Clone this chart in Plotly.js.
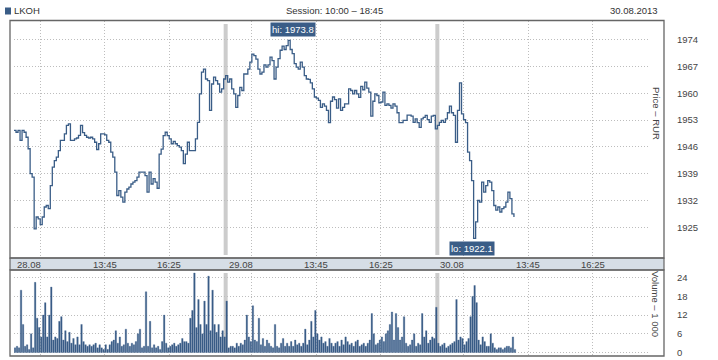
<!DOCTYPE html>
<html><head><meta charset="utf-8">
<script src="https://cdn.plot.ly/plotly-3.0.1.min.js"></script>
<style>html,body{margin:0;padding:0;background:#fff;}#chart{width:718px;height:360px;}</style>
</head><body><div id="chart"></div>
<script>
// ---------- data ----------
const ticker = 'LKOH';
const reportDate = '30.08.2013';
const sessionStart = '10:00';
const sessionEnd = '18:45';
const dayLabels = ['28.08', '29.08', '30.08'];
const gridTimes = ['11:05', '13:45', '16:25'];
const labelTimes = ['13:45', '16:25'];
const barMinutes = 5;
const priceTicks = [1925, 1932, 1939, 1946, 1953, 1960, 1967, 1974];
const volumeTicks = [0, 6, 12, 18, 24];

const priceDay1 = [1950.3,1949.8,1950.3,1947.7,1950.3,1949.8,1948.5,1945.5,1939.0,1938.1,
  1924.6,1927.7,1927.2,1925.7,1927.7,1930.3,1930.7,1929.9,1935.9,1940.7,
  1942.4,1943.3,1945.0,1947.7,1947.7,1949.4,1951.6,1952.0,1947.7,1947.7,
  1948.1,1948.3,1949.0,1951.6,1949.7,1949.0,1948.5,1948.3,1948.5,1948.1,
  1947.2,1945.3,1946.8,1949.4,1949.4,1949.1,1947.7,1947.2,1944.6,1943.3,
  1939.4,1933.3,1934.6,1932.9,1931.6,1934.2,1935.0,1935.5,1936.3,1936.8,
  1937.2,1938.1,1939.4,1939.4,1939.4,1938.5,1934.2,1939.4,1936.3,1937.7,
  1936.8,1935.2,1944.1,1945.4,1948.9,1949.8,1948.9,1948.1,1946.8,1947.4,
  1946.8,1946.3,1945.9,1945.0,1941.6,1944.1,1947.2,1945.0,1945.0,1945.0,
  1948.1,1952.4,1959.8,1965.5,1966.3,1963.7,1963.3,1955.5,1962.4,1964.2,
  1963.3,1962.4,1960.3,1961.1,1963.7];
const priceDay2 = [1964.6,1962.9,1963.7,1961.1,1959.8,1956.3,1959.4,1961.5,1960.7,1965.0,
  1965.0,1966.3,1968.1,1970.2,1969.8,1968.9,1966.3,1965.0,1965.5,1967.4,
  1966.8,1967.4,1969.4,1968.5,1963.7,1966.8,1969.0,1971.2,1972.3,1971.4,
  1972.4,1973.8,1971.4,1970.3,1967.7,1966.8,1966.3,1968.1,1966.8,1964.6,
  1963.7,1963.6,1962.7,1961.1,1959.0,1958.7,1958.1,1956.3,1957.2,1956.6,
  1955.5,1952.3,1957.9,1959.0,1958.3,1956.1,1958.5,1955.5,1956.3,1957.2,
  1957.2,1961.1,1960.7,1959.8,1960.7,1959.8,1958.9,1961.8,1960.9,1962.9,
  1961.3,1960.3,1954.0,1957.9,1959.8,1959.4,1957.5,1957.7,1960.3,1956.8,
  1957.2,1956.8,1956.1,1957.2,1956.6,1954.9,1952.3,1952.3,1952.9,1952.9,
  1954.3,1954.3,1954.0,1952.4,1953.3,1952.3,1951.1,1953.3,1953.7,1954.2,
  1953.1,1952.4,1954.0,1954.2,1950.7];
const priceDay3 = [1951.6,1952.4,1952.9,1952.4,1953.3,1954.9,1956.6,1954.9,1954.2,1947.2,
  1955.5,1962.7,1954.6,1953.1,1952.3,1944.6,1942.4,1937.2,1922.1,1926.4,
  1932.0,1931.6,1936.8,1934.2,1935.9,1937.2,1936.8,1934.6,1930.7,1929.5,
  1930.3,1929.0,1929.9,1930.3,1931.6,1934.2,1932.5,1928.5,1927.7];

const volDay1 = [1.5,2,1.5,20,9,2,2.5,1,6,1.5,
  22.5,11,8,5,12,16,5,12,21,4,
  5,4.5,10,11.5,4,7,3.5,6.5,3,4.5,
  2.5,5,2.5,9,3.5,2.5,2,2.5,2,2.5,
  3,1.5,2.5,1.5,1,2.5,1,2.5,3.5,4,
  7,3,5,2,2.5,7.5,3,2,3,2.5,
  3.5,6,7.5,1.5,2,19.5,2,10,1.5,2.5,
  1.5,2,1,3.5,12,3,1.5,2,2.5,3,
  2,2.5,3,4.5,3.5,3.5,3,11,13.5,25.5,
  8,17,9,6,16.5,9,24.5,7,20,9,
  6.5,9,5,7,5];
const volDay2 = [16.5,1.5,2,2,1.5,3,2,3,2.5,4,
  12,5,3.5,15,4,3.5,11,2.5,4.5,2,
  4,3,2,1.5,9,2,1.5,3,4.5,2,
  3,2,3.5,2,4,2.5,3,2,3,7.5,
  2.5,4,10,5,13.5,6,4,5,3,3.5,
  2,4.5,3,2,3,3.5,2,4,2.5,5,
  3.5,2.5,3,2,3.5,4,2,2.5,3,2,
  3,4,12.5,6,2.5,3,4,5,3.5,6,
  7,9,13,4,12.5,8,4,5,11.5,3,
  2,2.5,4,6,2,3,2.5,12.5,5,7,
  3,4,5,4.5,14.5];
const volDay3 = [3,2,2.5,3,1.5,2,2.5,3,3.5,17,
  4,5,4.5,2.5,3.5,4.5,11.5,18,21.5,16,
  4,2.5,5,3.5,2,2,6,3,1.5,1,
  1.5,1.5,1,1.5,2,2,1.5,5,1];

// ---------- helpers ----------
const toMin = s => { const [h, m] = s.split(':').map(Number); return h * 60 + m; };
const S0 = toMin(sessionStart);
const SESSION = toMin(sessionEnd) - S0; // 525 min
const priceDays = [priceDay1, priceDay2, priceDay3];
const volDays = [volDay1, volDay2, volDay3];
const tx = [], py = [], vx = [], vy = [];
priceDays.forEach((arr, d) => arr.forEach((v, i) => { tx.push(d * SESSION + i * barMinutes); py.push(v); }));
volDays.forEach((arr, d) => arr.forEach((v, i) => { vx.push(d * SESSION + i * barMinutes + barMinutes / 2); vy.push(v); }));

const gridVals = [];
dayLabels.forEach((_, d) => gridTimes.forEach(t => gridVals.push(d * SESSION + toMin(t) - S0)));

const XR = [0, 3 * SESSION];
const BLUE = '#3a5d87';
const FONT = 'Liberation Sans, Arial, sans-serif';
const TXT = '#444';

// pixel helpers for paper coordinates (plot area: x 14..649, y 21..356)
const L = 14, R = 649, T = 21, B = 356;
const px = x => (x - L) / (R - L);
const pyP = y => (B - y) / (B - T);

const priceDomain = [pyP(258), 1];
const volDomain = [0, pyP(270)];
const pTop = pyP(258), vTop = pyP(270);

let hiIdx = 0, loIdx = 0;
py.forEach((v, i) => { if (v > py[hiIdx]) hiIdx = i; if (v < py[loIdx]) loIdx = i; });

const traces = [
  { type: 'scatter', mode: 'lines', x: tx, y: py, xaxis: 'x', yaxis: 'y',
    line: { color: BLUE, width: 1.3, shape: 'hv' }, hoverinfo: 'skip' },
  { type: 'bar', x: vx, y: vy, xaxis: 'x2', yaxis: 'y2', width: 3.7,
    marker: { color: BLUE, line: { width: 0.3, color: BLUE } }, hoverinfo: 'skip' }
];

const annotations = [];
const af = (sz, c) => ({ family: FONT, size: sz, color: c });
// header
annotations.push({ xref: 'paper', yref: 'paper', x: px(12), y: pyP(11), text: ticker, showarrow: false,
  xanchor: 'left', yanchor: 'middle', font: af(9.5, '#333') });
annotations.push({ xref: 'paper', yref: 'paper', x: px(334), y: pyP(11),
  text: 'Session: ' + sessionStart + ' – ' + sessionEnd, showarrow: false,
  xanchor: 'center', yanchor: 'middle', font: af(9.5, '#333') });
annotations.push({ xref: 'paper', yref: 'paper', x: px(660), y: pyP(11), text: reportDate, showarrow: false,
  xanchor: 'right', yanchor: 'middle', font: af(9.5, '#333') });
// x labels in band
dayLabels.forEach((lab, d) => {
  annotations.push({ xref: 'x', yref: 'paper', x: d * SESSION + 37, y: pyP(264.5), text: lab, showarrow: false,
    xanchor: 'center', yanchor: 'middle', font: af(9.5, TXT) });
  labelTimes.forEach(t => {
    annotations.push({ xref: 'x', yref: 'paper', x: d * SESSION + toMin(t) - S0, y: pyP(264.5), text: t, showarrow: false,
      xanchor: 'center', yanchor: 'middle', font: af(9.5, TXT) });
  });
});
// axis titles (rotated, reading downward)
annotations.push({ xref: 'paper', yref: 'paper', x: px(656), y: pyP(113), text: 'Price – RUR', showarrow: false,
  textangle: 90, xanchor: 'center', yanchor: 'middle', font: af(9.5, TXT) });
annotations.push({ xref: 'paper', yref: 'paper', x: px(656), y: pyP(304), text: 'Volume – 1 000', showarrow: false,
  textangle: 90, xanchor: 'center', yanchor: 'middle', font: af(9.5, TXT) });
// hi / lo labels
annotations.push({ xref: 'x', yref: 'y', x: tx[hiIdx], y: py[hiIdx], text: 'hi: ' + py[hiIdx].toFixed(1),
  showarrow: false, xanchor: 'center', yanchor: 'bottom', yshift: 3, xshift: 5, bgcolor: BLUE, borderpad: 1,
  font: af(9.5, '#fff') });
annotations.push({ xref: 'x', yref: 'y', x: tx[loIdx], y: py[loIdx], text: 'lo: ' + py[loIdx].toFixed(1),
  showarrow: false, xanchor: 'center', yanchor: 'top', yshift: -3, xshift: -2, bgcolor: BLUE, borderpad: 1,
  font: af(9.5, '#fff') });

const shapes = [];
// day separators (x in data units, y in paper units)
[1, 2].forEach(d => {
  shapes.push({ type: 'line', xref: 'x', yref: 'paper', x0: d * SESSION, x1: d * SESSION,
    y0: pyP(255), y1: pyP(24), line: { color: '#cccccc', width: 4 }, layer: 'below' });
  shapes.push({ type: 'line', xref: 'x', yref: 'paper', x0: d * SESSION, x1: d * SESSION,
    y0: pyP(353), y1: pyP(273), line: { color: '#cccccc', width: 4 }, layer: 'below' });
});
// band
shapes.push({ type: 'rect', xref: 'paper', yref: 'paper', x0: px(10), x1: px(664), y0: vTop, y1: pTop,
  fillcolor: '#d6dee6', line: { color: '#666', width: 1.2 }, layer: 'above' });
// frames
shapes.push({ type: 'rect', xref: 'paper', yref: 'paper', x0: px(10), x1: px(664), y0: pTop, y1: pyP(20.5),
  line: { color: '#666', width: 1.3 }, layer: 'above' });
shapes.push({ type: 'rect', xref: 'paper', yref: 'paper', x0: px(10), x1: px(664), y0: pyP(356), y1: vTop,
  line: { color: '#666', width: 1.3 }, layer: 'above' });
// legend square
shapes.push({ type: 'rect', xref: 'paper', yref: 'paper', x0: px(5), x1: px(11), y0: pyP(14.5), y1: pyP(7.5),
  fillcolor: BLUE, line: { width: 0 }, layer: 'above' });

const gridStyle = { showgrid: true, gridcolor: '#bdbdbd', griddash: '1px,2px', gridwidth: 1, zeroline: false, showline: false };

const layout = {
  width: 718, height: 360,
  margin: { l: L, r: 718 - R, t: T, b: 360 - B, pad: 0 },
  paper_bgcolor: '#fff', plot_bgcolor: 'rgba(0,0,0,0)',
  showlegend: false, bargap: 0,
  xaxis: Object.assign({}, gridStyle, { range: XR, tickmode: 'array', tickvals: gridVals, showticklabels: false,
    anchor: 'y' }),
  xaxis2: Object.assign({}, gridStyle, { range: XR, tickmode: 'array', tickvals: gridVals, showticklabels: false,
    anchor: 'y2' }),
  yaxis: Object.assign({}, gridStyle, { domain: priceDomain, range: [1917.0, 1978.83], side: 'right',
    tickmode: 'array', tickvals: priceTicks, ticks: 'outside', ticklen: 25, tickcolor: 'rgba(0,0,0,0)',
    tickfont: af(9.5, TXT), anchor: 'x' }),
  yaxis2: Object.assign({}, gridStyle, { domain: volDomain, range: [-1.12, 26.47], side: 'right',
    tickmode: 'array', tickvals: volumeTicks, ticks: 'outside', ticklen: 25, tickcolor: 'rgba(0,0,0,0)',
    tickfont: af(9.5, TXT), anchor: 'x2' }),
  annotations: annotations,
  shapes: shapes
};

Plotly.newPlot('chart', traces, layout, { staticPlot: true, displayModeBar: false });
</script>
</body></html>
